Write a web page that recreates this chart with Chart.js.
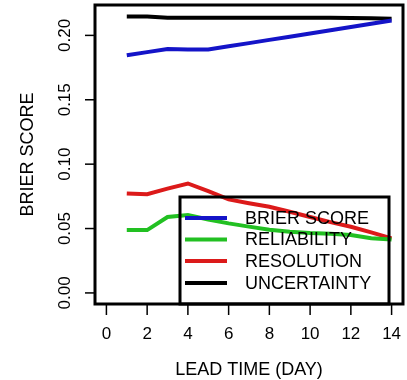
<!DOCTYPE html>
<html>
<head>
<meta charset="utf-8">
<script src="https://cdn.jsdelivr.net/npm/chart.js@4.4.0/dist/chart.umd.min.js"></script>
<style>
  html, body { margin: 0; padding: 0; background: #fff; }
  #wrap { width: 407px; height: 380px; }
</style>
</head>
<body>
<div id="wrap"><canvas id="chart" width="407" height="380"></canvas></div>
<script>
// lead time in days
const leadDays = [1, 2, 3, 4, 5, 6, 7, 8, 9, 10, 11, 12, 13, 14];

const brierScore  = [0.1845, 0.1870, 0.1895, 0.1890, 0.1890, 0.1915, 0.1940, 0.1965, 0.1990, 0.2015, 0.2040, 0.2065, 0.2090, 0.2115];
const reliability = [0.0488, 0.0488, 0.0590, 0.0605, 0.0570, 0.0540, 0.0515, 0.0490, 0.0475, 0.0465, 0.0460, 0.0450, 0.0425, 0.0415];
const resolution  = [0.0773, 0.0767, 0.0810, 0.0850, 0.0790, 0.0726, 0.0697, 0.0669, 0.0630, 0.0590, 0.0550, 0.0514, 0.0470, 0.0424];
const uncertainty = [0.2147, 0.2147, 0.2137, 0.2137, 0.2137, 0.2137, 0.2137, 0.2137, 0.2137, 0.2137, 0.2137, 0.2135, 0.2133, 0.2130];

const xTicks = [0, 2, 4, 6, 8, 10, 12, 14];
const yTicks = [0.00, 0.05, 0.10, 0.15, 0.20];

const seriesNames  = ['BRIER SCORE', 'RELIABILITY', 'RESOLUTION', 'UNCERTAINTY'];
const seriesColors = ['#1414c8', '#22c022', '#dc1a1a', '#000000'];

const FONT = '"Liberation Sans", Arial, sans-serif';

function toPoints(values) {
  return values.map((v, i) => ({ x: leadDays[i], y: v }));
}

// frame, axes, ticks and legend drawn in base-graphics style
const framePlugin = {
  id: 'frame',
  afterDatasetsDraw(chart) {
    const { ctx, chartArea: a, scales: { x, y } } = chart;
    ctx.save();
    ctx.strokeStyle = '#000';
    ctx.fillStyle = '#000';

    // plot box
    ctx.lineWidth = 3;
    ctx.strokeRect(a.left, a.top, a.right - a.left, a.bottom - a.top);

    // y ticks + rotated labels
    ctx.lineWidth = 1.5;
    ctx.font = '17px ' + FONT;
    ctx.textAlign = 'center';
    ctx.textBaseline = 'middle';
    yTicks.forEach(v => {
      const py = y.getPixelForValue(v);
      ctx.beginPath();
      ctx.moveTo(a.left, py);
      ctx.lineTo(a.left - 10, py);
      ctx.stroke();
      ctx.save();
      ctx.translate(65, py);
      ctx.rotate(-Math.PI / 2);
      ctx.fillText(v.toFixed(2), 0, 0);
      ctx.restore();
    });

    // x ticks + labels
    xTicks.forEach(v => {
      const px = x.getPixelForValue(v);
      ctx.beginPath();
      ctx.moveTo(px, a.bottom);
      ctx.lineTo(px, a.bottom + 11);
      ctx.stroke();
      ctx.fillText(String(v), px, 334);
    });

    // axis titles
    ctx.font = '18px ' + FONT;
    ctx.fillText('LEAD TIME (DAY)', (a.left + a.right) / 2, 370);
    ctx.save();
    ctx.translate(28, (a.top + a.bottom) / 2);
    ctx.rotate(-Math.PI / 2);
    ctx.fillText('BRIER SCORE', 0, 0);
    ctx.restore();

    // legend
    ctx.lineWidth = 3;
    ctx.strokeRect(180, 197, 209, a.bottom - 197);
    ctx.textAlign = 'left';
    const rows = [218, 239.5, 261, 283];
    seriesNames.forEach((name, i) => {
      ctx.strokeStyle = seriesColors[i];
      ctx.lineWidth = 4;
      ctx.beginPath();
      ctx.moveTo(185, rows[i]);
      ctx.lineTo(227, rows[i]);
      ctx.stroke();
      ctx.fillStyle = '#000';
      ctx.fillText(name, 245, rows[i] + 1);
    });
    ctx.restore();
  }
};

const seriesData = [brierScore, reliability, resolution, uncertainty];

new Chart(document.getElementById('chart'), {
  type: 'line',
  data: {
    datasets: seriesData.map((vals, i) => ({
      label: seriesNames[i],
      data: toPoints(vals),
      borderColor: seriesColors[i],
      borderWidth: 4,
      pointRadius: 0,
      tension: 0,
      fill: false
    }))
  },
  options: {
    responsive: false,
    animation: false,
    layout: { padding: { left: 95, right: 4, top: 5, bottom: 76 } },
    plugins: { legend: { display: false }, tooltip: { enabled: false } },
    scales: {
      x: { type: 'linear', display: false, min: -0.56, max: 14.56 },
      y: { type: 'linear', display: false, min: -0.0086, max: 0.2236 }
    }
  },
  plugins: [framePlugin]
});
</script>
</body>
</html>
